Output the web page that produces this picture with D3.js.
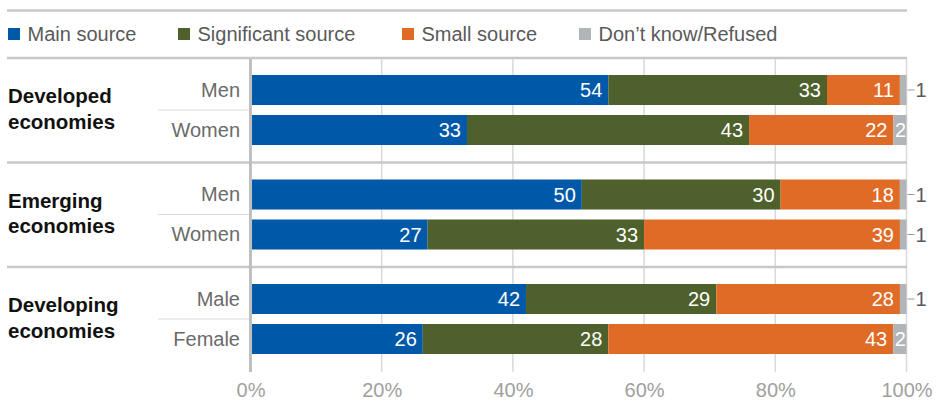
<!DOCTYPE html>
<html>
<head>
<meta charset="utf-8">
<script src="https://cdn.jsdelivr.net/npm/d3@7"></script>
<style>
  html, body { margin: 0; padding: 0; background: #fff; }
  svg { display: block; font-family: "Liberation Sans", Arial, Helvetica, sans-serif; }
</style>
</head>
<body>
<svg id="chart" width="937" height="403"></svg>
<script>
// ---- data ----
const groups = ["Developed economies", "Emerging economies", "Developing economies"];
const rowLabels = ["Men", "Women", "Men", "Women", "Male", "Female"];
const rowGroups = [0, 0, 1, 1, 2, 2];
const seriesNames = ["Main source", "Significant source", "Small source", "Don’t know/Refused"];
const mainSource = [54, 33, 50, 27, 42, 26];
const significantSource = [33, 43, 30, 33, 29, 28];
const smallSource = [11, 22, 18, 39, 28, 43];
const dontKnow = [1, 2, 1, 1, 1, 2];
const tickValues = [0, 0.2, 0.4, 0.6, 0.8, 1];
const tickLabels = ["0%", "20%", "40%", "60%", "80%", "100%"];
const colors = ["#0059A8", "#4E602B", "#E06B26", "#B2B5B8"];

const keys = ["main", "significant", "small", "dk"];
const rows = rowLabels.map((lab, i) => ({
  id: i, label: lab, group: groups[rowGroups[i]], sub: i % 2,
  main: mainSource[i], significant: significantSource[i], small: smallSource[i], dk: dontKnow[i]
}));

const svg = d3.select("#chart");
const W = 937, H = 403;

const x = d3.scaleLinear().domain([0, 1]).range([250.5, 906.5]);
const yGroup = d3.scaleBand().domain(groups).range([58, 371.5]).padding(0);
const ySub = d3.scaleBand().domain([0, 1]).range([12, 92]).paddingInner(0.25).paddingOuter(0.125);
const color = d3.scaleOrdinal().domain(keys).range(colors);

const rowY = d => yGroup(d.group) + ySub(d.sub);
const bh = ySub.bandwidth();

// top rule and legend rule
svg.append("line").attr("x1", 7).attr("x2", 907).attr("y1", 10.5).attr("y2", 10.5)
  .attr("stroke", "#c8c8c8").attr("stroke-width", 2.5);
svg.append("line").attr("x1", 7).attr("x2", 907).attr("y1", 58).attr("y2", 58)
  .attr("stroke", "#c8c8c8").attr("stroke-width", 2.5);

// legend
const legendX = [8, 178, 402, 579];
const lg = svg.append("g");
seriesNames.forEach((name, i) => {
  lg.append("rect").attr("x", legendX[i]).attr("y", 28).attr("width", 12).attr("height", 12)
    .attr("fill", colors[i]);
  lg.append("text").attr("x", legendX[i] + 19.5).attr("y", 41).attr("font-size", 20)
    .attr("fill", "#5a5a5a").text(name);
});

// gridlines
svg.append("g").selectAll("line").data(tickValues.slice(1)).join("line")
  .attr("x1", d => x(d)).attr("x2", d => x(d)).attr("y1", 59).attr("y2", 372)
  .attr("stroke", "#d9d9d9").attr("stroke-width", 1.5);

// group separators
svg.append("g").selectAll("line").data(groups.slice(1)).join("line")
  .attr("x1", 7).attr("x2", 907).attr("y1", d => yGroup(d)).attr("y2", d => yGroup(d))
  .attr("stroke", "#c8c8c8").attr("stroke-width", 2.5);

// sub-row separators
svg.append("g").selectAll("line").data(groups).join("line")
  .attr("x1", 158).attr("x2", 250).attr("y1", d => yGroup(d) + 52).attr("y2", d => yGroup(d) + 52)
  .attr("stroke", "#dcdcdc").attr("stroke-width", 1.2);

// stacked bars
const stack = d3.stack().keys(keys).offset(d3.stackOffsetExpand);
const stacked = stack(rows);

const layers = svg.append("g").selectAll("g").data(stacked).join("g")
  .attr("fill", d => color(d.key));
layers.selectAll("rect").data(d => d).join("rect")
  .attr("x", d => x(d[0])).attr("width", d => x(d[1]) - x(d[0]))
  .attr("y", d => rowY(d.data)).attr("height", bh);

// value labels
const labels = svg.append("g").attr("font-size", 20);
stacked.forEach(layer => {
  layer.forEach(d => {
    const v = d.data[layer.key];
    const cy = rowY(d.data) + bh / 2;
    const x0 = x(d[0]), x1 = x(d[1]);
    if (layer.key === "dk") {
      if (v >= 2) {
        labels.append("text").attr("x", (x0 + x1) / 2 + 0.5).attr("y", cy + 7)
          .attr("text-anchor", "middle").attr("fill", "#fff").text(v);
      } else {
        labels.append("line").attr("x1", x1 + 1).attr("x2", x1 + 8).attr("y1", cy).attr("y2", cy)
          .attr("stroke", "#9a9a9a").attr("stroke-width", 1);
        labels.append("text").attr("x", x1 + 9).attr("y", cy + 7)
          .attr("fill", "#5a5a5a").text(v);
      }
    } else {
      labels.append("text").attr("x", x1 - 6).attr("y", cy + 7)
        .attr("text-anchor", "end").attr("fill", "#fff").text(v);
    }
  });
});

// y axis line (0%)
svg.append("line").attr("x1", x(0)).attr("x2", x(0)).attr("y1", 59).attr("y2", 372)
  .attr("stroke", "#c0c0c0").attr("stroke-width", 3);

// row labels
svg.append("g").selectAll("text").data(rows).join("text")
  .attr("x", 240).attr("y", d => rowY(d) + bh / 2 + 6.5)
  .attr("text-anchor", "end").attr("font-size", 20).attr("fill", "#6a6a6a")
  .text(d => d.label);

// group labels
const gl = svg.append("g").selectAll("text").data(groups).join("text")
  .attr("x", 8).attr("y", d => yGroup(d) + 52 - 7)
  .attr("font-size", 20.5).attr("font-weight", "bold").attr("fill", "#111");
gl.each(function(d) {
  const parts = d.split(" ");
  const t = d3.select(this);
  t.append("tspan").attr("x", 8).text(parts[0]);
  t.append("tspan").attr("x", 8).attr("dy", 25.5).text(parts[1]);
});

// x axis tick labels
const xAxis = d3.axisBottom(x).tickValues(tickValues).tickFormat((d, i) => tickLabels[i]).tickSize(0).tickPadding(0);
const ax = svg.append("g").attr("transform", "translate(0,382)").call(xAxis);
ax.select(".domain").remove();
ax.selectAll("text").attr("font-size", 20).attr("fill", "#a0a0a0")
  .attr("font-family", "Liberation Sans, Arial, sans-serif").attr("dy", "0.75em");
</script>
</body>
</html>
